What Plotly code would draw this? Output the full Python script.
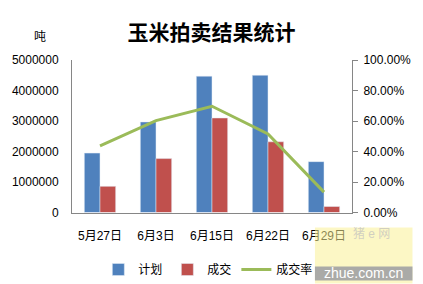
import plotly.graph_objects as go

categories = ["5月27日", "6月3日", "6月15日", "6月22日", "6月29日"]
plan = [1950000, 2970000, 4470000, 4500000, 1670000]
deal = [860000, 1770000, 3100000, 2320000, 200000]
rate = [0.438, 0.603, 0.697, 0.516, 0.134]

font = "Liberation Sans, Arial, Noto Sans CJK SC"

L, R, T, B = 69, 67, 60, 71
PW, PH = 423 - L - R, 284 - T - B


def px(x):
    return (x - L) / PW


def py(y):
    return (284 - B - y) / PH


fig = go.Figure()
fig.add_trace(go.Bar(x=categories, y=plan, name="计划", marker_color="#4F81BD"))
fig.add_trace(go.Bar(x=categories, y=deal, name="成交", marker_color="#C0504D"))
fig.add_trace(go.Scatter(x=categories, y=rate, name="成交率", yaxis="y2", mode="lines",
                         line=dict(color="#9BBB59", width=3)))

fig.update_layout(
    width=423, height=284,
    margin=dict(l=L, r=R, t=T, b=B),
    paper_bgcolor="white", plot_bgcolor="white",
    font=dict(family=font, size=12, color="black"),
    barmode="group", bargap=0.44, bargroupgap=0,
    showlegend=True,
    legend=dict(orientation="h", x=px(96), xanchor="left", y=0, yanchor="bottom",
                yref="container", font=dict(size=12), itemwidth=30,
                traceorder="normal", bgcolor="rgba(0,0,0,0)"),
    title=dict(text="<b>玉米拍卖结果统计</b>", x=0.5, xanchor="center", y=1 - 33 / 284,
               yanchor="middle",
               font=dict(family="Noto Sans CJK SC", size=21, color="black")),
    xaxis=dict(showline=True, linecolor="#868686", linewidth=1, ticks="", showgrid=False,
               tickfont=dict(size=12), ticklabelstandoff=12),
    yaxis=dict(range=[0, 5000000], dtick=1000000, tickformat="d", showline=True,
               linecolor="#868686", linewidth=1, showgrid=False, zeroline=False, ticks="",
               ticklabelstandoff=10),
    yaxis2=dict(range=[0, 1], dtick=0.2, tickformat=".2%", overlaying="y", side="right",
                showline=True, linecolor="#868686", linewidth=1, showgrid=False,
                zeroline=False, ticks="outside", ticklen=5, tickcolor="#868686",
                ticklabelstandoff=3),
)
fig.add_annotation(text="吨", x=px(36), y=py(37), xref="paper", yref="paper",
                   showarrow=False, font=dict(size=12), xanchor="center", yanchor="middle")

# watermark approximation
fig.add_shape(type="rect", xref="paper", yref="paper", layer="above",
              x0=px(318), x1=px(418), y0=py(284), y1=py(228),
              fillcolor="rgba(250,240,150,0.55)", line_width=0)
fig.add_shape(type="rect", xref="paper", yref="paper", layer="above",
              x0=px(318), x1=px(418), y0=py(281), y1=py(267),
              fillcolor="rgba(165,165,165,0.95)", line_width=0)
fig.add_annotation(text="zhue.com.cn", xref="paper", yref="paper",
                   x=px(368), y=py(274), showarrow=False,
                   xanchor="center", yanchor="middle",
                   font=dict(size=14, color="white"))
fig.add_annotation(text="猪 e 网", xref="paper", yref="paper",
                   x=px(376), y=py(234), showarrow=False,
                   xanchor="center", yanchor="middle",
                   font=dict(size=12, color="rgba(190,190,190,0.7)"))

fig.write_html("out.html")
